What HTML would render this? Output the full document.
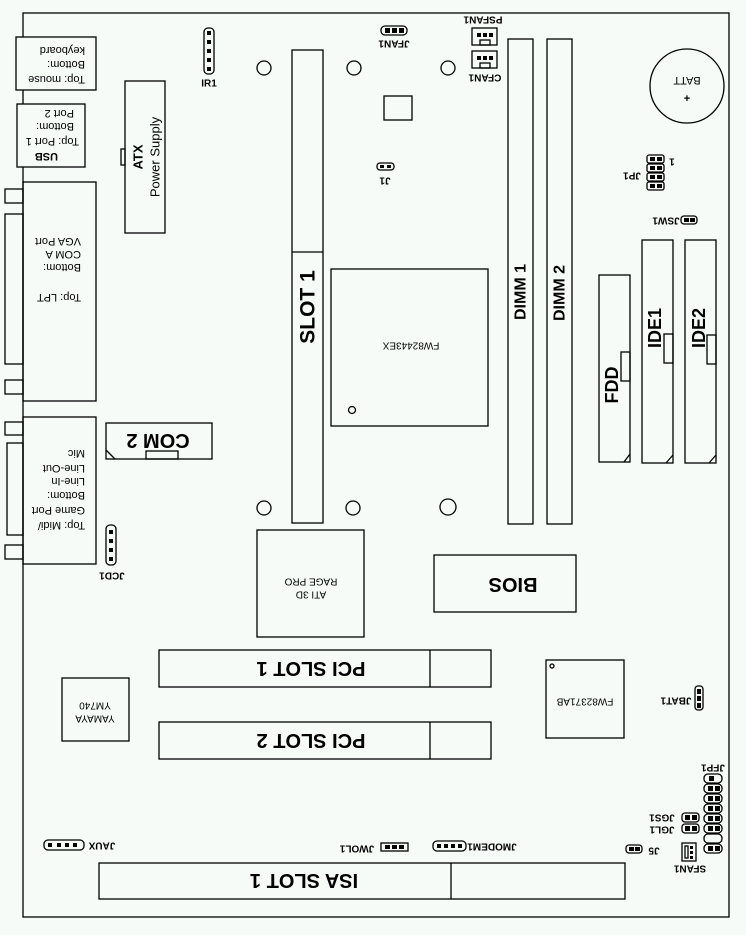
<!DOCTYPE html>
<html><head><meta charset="utf-8"><style>
html,body{margin:0;padding:0;background:#f6fbf8;}
svg{display:block;}
text{font-family:"Liberation Sans",Arial,sans-serif;fill:#000;}
.s{font-size:11px;}
.b{font-weight:bold;}
</style></head><body>
<svg width="746" height="935" viewBox="0 0 746 935" xmlns="http://www.w3.org/2000/svg">
<rect width="746" height="935" fill="#f6fbf8"/>
<g fill="none" stroke="#000" stroke-width="1.3">
<rect x="23" y="13" width="706" height="904"/>
<rect x="16" y="37" width="80" height="53" fill="#f6fbf8"/>
<rect x="17" y="104" width="68" height="63" fill="#f6fbf8"/>
<rect x="23" y="182" width="73" height="219"/>
<rect x="5" y="189" width="18" height="14"/>
<rect x="5" y="214" width="18" height="150"/>
<rect x="5" y="380" width="18" height="14"/>
<rect x="23" y="417" width="73" height="147"/>
<rect x="5" y="422" width="18" height="13"/>
<rect x="7" y="443" width="16" height="92"/>
<rect x="5" y="545" width="18" height="14"/>
<rect x="125" y="81" width="40" height="152"/>
<rect x="121" y="149" width="4" height="16"/>
<rect x="106" y="423" width="106" height="36"/>
<rect x="146" y="451" width="32" height="8"/>
<line x1="106" y1="450" x2="115" y2="459"/>
<rect x="292" y="50" width="31" height="473"/>
<line x1="292" y1="252" x2="323" y2="252"/>
<circle cx="264" cy="68" r="7"/><circle cx="354" cy="68" r="7"/><circle cx="448" cy="68" r="7"/>
<circle cx="264" cy="508" r="7"/><circle cx="353" cy="508" r="7"/><circle cx="448" cy="507" r="8"/>
<rect x="384" y="96" width="28" height="24"/>
<rect x="331" y="269" width="157" height="157"/>
<circle cx="352" cy="410" r="3.5"/>
<rect x="508" y="39" width="25" height="485"/>
<rect x="547" y="39" width="25" height="485"/>
<circle cx="687" cy="86" r="37"/>
<rect x="599" y="275" width="31" height="187"/>
<rect x="621" y="352" width="9" height="29"/>
<line x1="624" y1="462" x2="630" y2="454"/>
<rect x="642" y="240" width="31" height="223"/>
<rect x="664" y="334" width="9" height="29"/>
<line x1="666" y1="463" x2="673" y2="455"/>
<rect x="685" y="240" width="31" height="223"/>
<rect x="707" y="335" width="9" height="29"/>
<line x1="709" y1="463" x2="716" y2="455"/>
<rect x="257" y="530" width="107" height="107"/>
<rect x="434" y="555" width="142" height="57"/>
<rect x="159" y="650" width="332" height="37"/><line x1="430" y1="650" x2="430" y2="687"/>
<rect x="159" y="722" width="332" height="37"/><line x1="430" y1="722" x2="430" y2="759"/>
<rect x="546" y="660" width="78" height="78"/>
<circle cx="552" cy="666" r="2"/>
<rect x="62" y="678" width="67" height="63"/>
<rect x="99" y="863" width="526" height="36"/><line x1="451" y1="863" x2="451" y2="899"/>
<rect x="204" y="28" width="10" height="46" rx="4"/>
<rect x="106" y="525" width="10" height="40" rx="4"/>
<rect x="381" y="26" width="26" height="9" rx="4"/>
<rect x="472" y="28" width="25" height="17"/><rect x="480" y="40" width="10" height="5"/>
<rect x="472" y="51" width="25" height="17"/><rect x="480" y="63" width="10" height="5"/>
<rect x="377" y="163" width="17" height="7" rx="3"/>
<rect x="647" y="155" width="17" height="8" rx="2"/>
<rect x="647" y="164" width="17" height="8" rx="2"/>
<rect x="647" y="173" width="17" height="8" rx="2"/>
<rect x="647" y="182" width="17" height="8" rx="2"/>
<rect x="681" y="216" width="16" height="8" rx="3"/>
<rect x="695" y="686" width="8" height="24" rx="3"/>
<rect x="44" y="840" width="40" height="10" rx="4"/>
<rect x="381" y="843" width="27" height="8"/>
<rect x="433" y="841" width="33" height="10" rx="4"/>
<rect x="626" y="845" width="16" height="8" rx="3"/>
<rect x="682" y="813" width="17" height="9" rx="3"/>
<rect x="682" y="824" width="17" height="9" rx="3"/>
<rect x="682" y="843" width="14" height="18"/><rect x="685" y="846" width="3" height="12"/>
<rect x="704" y="774" width="18" height="9" rx="4"/>
<rect x="704" y="784" width="18" height="9" rx="4"/>
<rect x="704" y="794" width="18" height="9" rx="4"/>
<rect x="704" y="804" width="18" height="9" rx="4"/>
<rect x="704" y="814" width="18" height="9" rx="4"/>
<rect x="704" y="824" width="18" height="9" rx="4"/>
<rect x="704" y="834" width="18" height="9" rx="4"/>
<rect x="704" y="844" width="18" height="9" rx="4"/>
</g>
<g fill="#000">
<rect x="207" y="31" width="4" height="4"/><rect x="207" y="40" width="4" height="4"/><rect x="207" y="49" width="4" height="4"/><rect x="207" y="58" width="4" height="4"/><rect x="207" y="67" width="4" height="4"/>
<rect x="109" y="530" width="4" height="4"/><rect x="109" y="539" width="4" height="4"/><rect x="109" y="548" width="4" height="4"/><rect x="109" y="557" width="4" height="4"/>
<rect x="385" y="28" width="5" height="5"/><rect x="392" y="28" width="5" height="5"/><rect x="399" y="28" width="5" height="5"/>
<rect x="477" y="33" width="4" height="4"/><rect x="483" y="33" width="4" height="4"/><rect x="489" y="33" width="4" height="4"/>
<rect x="477" y="56" width="4" height="4"/><rect x="483" y="56" width="4" height="4"/><rect x="489" y="56" width="4" height="4"/>
<rect x="380" y="165" width="4" height="3"/><rect x="387" y="165" width="4" height="3"/>
<g id="jp"><rect x="650" y="157" width="5" height="4"/><rect x="657" y="157" width="5" height="4"/></g>
<use href="#jp" y="9"/><use href="#jp" y="18"/><use href="#jp" y="27"/>
<rect x="684" y="218" width="5" height="4"/><rect x="690" y="218" width="5" height="4"/>
<rect x="697" y="689" width="4" height="5"/><rect x="697" y="696" width="4" height="5"/><rect x="697" y="703" width="4" height="5"/>
<rect x="48" y="843" width="4" height="4"/><rect x="57" y="843" width="4" height="4"/><rect x="65" y="843" width="4" height="4"/><rect x="73" y="843" width="4" height="4"/>
<rect x="385" y="845" width="5" height="4"/><rect x="392" y="845" width="5" height="4"/><rect x="399" y="845" width="5" height="4"/>
<rect x="437" y="844" width="4" height="4"/><rect x="444" y="844" width="4" height="4"/><rect x="451" y="844" width="4" height="4"/><rect x="458" y="844" width="4" height="4"/>
<rect x="629" y="847" width="5" height="4"/><rect x="635" y="847" width="5" height="4"/>
<rect x="685" y="815" width="5" height="5"/><rect x="692" y="815" width="5" height="5"/>
<rect x="685" y="826" width="5" height="5"/><rect x="692" y="826" width="5" height="5"/>
<rect x="690" y="846" width="3" height="3"/><rect x="690" y="851" width="3" height="3"/><rect x="690" y="856" width="3" height="3"/>
<rect x="709" y="776" width="5" height="5"/>
<g id="fp"><rect x="708" y="786" width="5" height="5"/><rect x="715" y="786" width="5" height="5"/></g>
<use href="#fp" y="10"/><use href="#fp" y="20"/><use href="#fp" y="30"/><use href="#fp" y="40"/><use href="#fp" y="60"/>
</g>
<g class="s" dominant-baseline="central">
<text transform="rotate(180 85 50)" x="85" y="50">keyboard</text>
<text transform="rotate(180 85 64)" x="85" y="64">Bottom:</text>
<text transform="rotate(180 85 79)" x="85" y="79">Top: mouse</text>
<text transform="rotate(180 74 113)" x="74" y="113">Port 2</text>
<text transform="rotate(180 74 126)" x="74" y="126">Bottom:</text>
<text transform="rotate(180 79 141)" x="79" y="141">Top: Port 1</text>
<text transform="rotate(180 58 156)" x="58" y="156" class="b">USB</text>
<text transform="rotate(180 81 241)" x="81" y="241">VGA Port</text>
<text transform="rotate(180 81 254)" x="81" y="254">COM A</text>
<text transform="rotate(180 81 267)" x="81" y="267">Bottom:</text>
<text transform="rotate(180 81 297)" x="81" y="297">Top: LPT</text>
<text transform="rotate(180 85 453)" x="85" y="453">Mic</text>
<text transform="rotate(180 85 468)" x="85" y="468">Line-Out</text>
<text transform="rotate(180 85 481)" x="85" y="481">Line-In</text>
<text transform="rotate(180 85 495)" x="85" y="495">Bottom:</text>
<text transform="rotate(180 85 510)" x="85" y="510">Game Port</text>
<text transform="rotate(180 85 525)" x="85" y="525">Top: Midi/</text>
</g>
<g font-size="10" font-weight="bold" dominant-baseline="central" text-anchor="middle">
<text x="209" y="84">IR1</text>
<text transform="rotate(180 112 575)" x="112" y="575">JCD1</text>
<text transform="rotate(180 394 43)" x="394" y="43">JFAN1</text>
<text transform="rotate(180 483 19)" x="483" y="19">PSFAN1</text>
<text transform="rotate(180 485 77)" x="485" y="77">CFAN1</text>
<text transform="rotate(180 385 180)" x="385" y="180">J1</text>
<text transform="rotate(180 632 175)" x="632" y="175">JP1</text>
<text transform="rotate(180 672 161)" x="672" y="161">1</text>
<text transform="rotate(180 666 220)" x="666" y="220">JSW1</text>
<text transform="rotate(180 676 700)" x="676" y="700">JBAT1</text>
<text transform="rotate(180 713 767)" x="713" y="767">JFP1</text>
<text transform="rotate(180 662 817)" x="662" y="817">JGS1</text>
<text transform="rotate(180 662 829)" x="662" y="829">JGL1</text>
<text transform="rotate(180 690 868)" x="690" y="868">SFAN1</text>
<text transform="rotate(180 654 850)" x="654" y="850">J5</text>
<text transform="rotate(180 102 845)" x="102" y="845">JAUX</text>
<text transform="rotate(180 357 848)" x="357" y="848">JWOL1</text>
<text transform="rotate(180 492 846)" x="492" y="846">JMODEM1</text>
</g>
<g font-size="11" dominant-baseline="central" text-anchor="middle">
<text transform="rotate(180 687 80)" x="687" y="80">BATT</text>
<text x="687" y="99" font-weight="bold">+</text>
<text transform="rotate(180 411 345)" x="411" y="345" font-size="10">FW82443EX</text>
<text transform="rotate(180 311 581)" x="311" y="581" font-size="10">RAGE PRO</text>
<text transform="rotate(180 311 594)" x="311" y="594" font-size="10">ATI 3D</text>
<text transform="rotate(180 585 701)" x="585" y="701" font-size="10">FW82371AB</text>
<text transform="rotate(180 95 705)" x="95" y="705" font-size="10">YM740</text>
<text transform="rotate(180 95 718)" x="95" y="718" font-size="10">YAMAYA</text>
</g>
<g font-weight="bold" dominant-baseline="central" text-anchor="middle">
<text transform="rotate(-90 138 157)" x="138" y="157" font-size="13">ATX</text>
<text transform="rotate(-90 155 157)" x="155" y="157" font-size="13" font-weight="normal">Power Supply</text>
<text transform="rotate(180 158 440)" x="158" y="440" font-size="20">COM 2</text>
<text transform="rotate(-90 308 307)" x="308" y="307" font-size="21">SLOT 1</text>
<text transform="rotate(-90 521 292)" x="521" y="292" font-size="16">DIMM 1</text>
<text transform="rotate(-90 560 293)" x="560" y="293" font-size="16">DIMM 2</text>
<text transform="rotate(-90 612 385)" x="612" y="385" font-size="18">FDD</text>
<text transform="rotate(-90 655 328)" x="655" y="328" font-size="18">IDE1</text>
<text transform="rotate(-90 699 328)" x="699" y="328" font-size="18">IDE2</text>
<text transform="rotate(180 513 584)" x="513" y="584" font-size="20">BIOS</text>
<text transform="rotate(180 311 668)" x="311" y="668" font-size="20">PCI SLOT 1</text>
<text transform="rotate(180 311 740)" x="311" y="740" font-size="20">PCI SLOT 2</text>
<text transform="rotate(180 304 880)" x="304" y="880" font-size="20">ISA SLOT 1</text>
</g>
</svg>
</body></html>
